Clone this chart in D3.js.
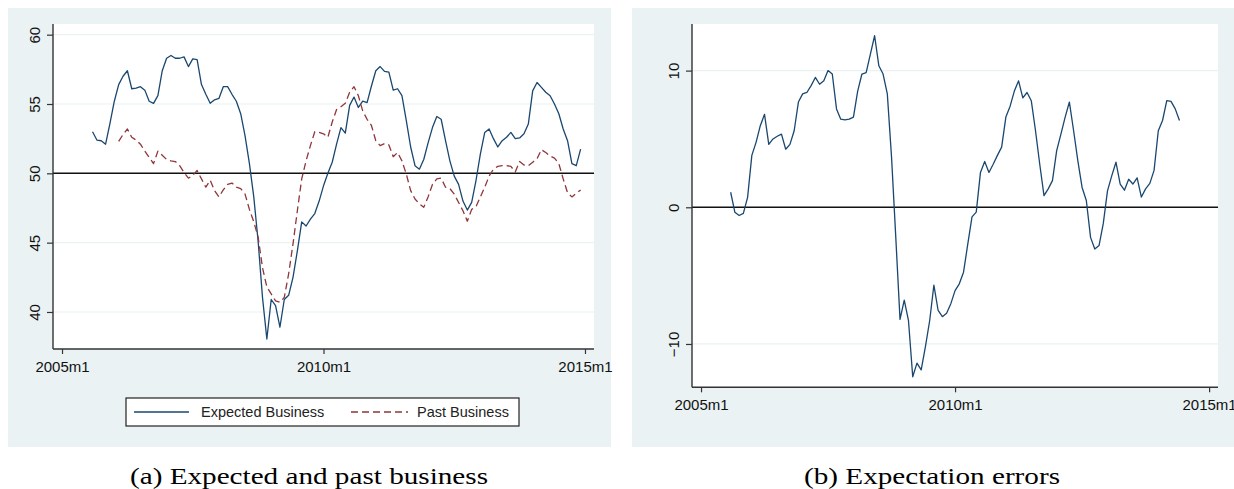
<!DOCTYPE html>
<html>
<head>
<meta charset="utf-8">
<script src="https://cdn.jsdelivr.net/npm/d3@7"></script>
<style>
  html, body { margin: 0; padding: 0; background: #ffffff; }
  svg { display: block; }
</style>
</head>
<body>
<svg id="chart" width="1234" height="489"></svg>
<script>
// ---------------- DATA ----------------
// months counted from 2005m1 (index 0)
const xTickMonths = [0, 60, 120];
const xTickLabels = ["2005m1", "2010m1", "2015m1"];

// Panel (a)
const expectedStart = 7;   // 2005m8
const expectedBusiness = [
  53.0, 52.4, 52.35, 52.1, 53.6, 55.2, 56.4, 57.0, 57.4, 56.1,
  56.15, 56.25, 56.0, 55.2, 55.05, 55.6, 57.4, 58.3, 58.5, 58.3,
  58.3, 58.4, 57.7, 58.25, 58.2, 56.4, 55.7, 55.05, 55.3, 55.4,
  56.25, 56.25, 55.7, 55.2, 54.3, 52.7, 50.7, 48.3, 45.1, 41.05,
  38.05, 40.9, 40.45, 38.9, 40.9, 41.2, 42.5, 44.4, 46.5, 46.2,
  46.7, 47.1, 48.0, 49.1, 50.0, 50.8, 52.1, 53.3, 52.9, 54.9,
  55.5, 54.75, 55.2, 55.1, 56.3, 57.4, 57.7, 57.35, 57.3, 56.0,
  56.1, 55.6, 53.8, 51.9, 50.55, 50.3, 51.0, 52.2, 53.3, 54.1,
  53.9, 52.35, 50.9, 49.8, 49.2, 48.0, 47.35, 47.9, 49.5, 51.4,
  52.95, 53.2, 52.5, 51.9, 52.35, 52.6, 52.95, 52.5, 52.55, 52.85,
  53.55, 55.95, 56.55, 56.2, 55.85, 55.6, 55.0, 54.3, 53.2, 52.35,
  50.7, 50.55, 51.75
];
const pastStart = 13;      // 2006m2
const pastBusiness = [
  52.3, 52.8, 53.2, 52.6, 52.4, 52.1, 51.6, 51.15, 50.7, 51.6,
  51.3, 51.0, 50.9, 50.85, 50.55, 50.05, 49.65, 49.85, 50.2, 49.6,
  49.0, 49.5, 48.75, 48.3, 48.8, 49.2, 49.3, 49.0, 48.9, 48.5,
  47.4, 46.5, 45.4, 43.2, 41.8, 41.3, 40.8, 40.7, 41.05, 42.75,
  44.9, 47.3, 49.6, 50.9, 52.0, 53.0, 52.95, 52.85, 52.6, 53.7,
  54.6, 54.8, 55.05, 55.85, 56.25, 55.6, 54.5, 53.9, 53.45, 52.35,
  52.0, 52.15, 52.05, 51.2, 51.5, 50.9, 49.95, 48.75, 48.15, 47.8,
  47.55, 48.3, 49.2, 49.6, 49.65, 49.0, 48.9, 48.5, 47.9, 47.3,
  46.55, 47.4, 47.6, 48.3, 49.0, 49.8, 50.3, 50.5, 50.55, 50.55,
  50.5, 50.1, 50.85, 50.6, 50.55, 50.8, 51.05, 51.7, 51.5, 51.25,
  51.1, 50.7, 49.6, 48.6, 48.3, 48.55, 48.8
];
const yTicksA = [40, 45, 50, 55, 60];
const refA = 50;

// Panel (b)
const errorStart = 7;      // 2005m8
const expectationErrors = [
  1.1, -0.37, -0.6, -0.45, 0.73, 3.8, 4.75, 5.97, 6.8, 4.6,
  5.0, 5.2, 5.35, 4.25, 4.6, 5.6, 7.7, 8.3, 8.4, 8.9,
  9.5, 9.0, 9.25, 10.0, 9.75, 7.2, 6.45, 6.4, 6.45, 6.6,
  8.5, 9.75, 9.85, 11.2, 12.55, 10.35, 9.75, 8.3, 3.65, -2.2,
  -8.2, -6.8, -8.3, -12.4, -11.4, -11.9, -10.2, -8.3, -5.7, -7.55,
  -8.0, -7.75, -7.05, -6.1, -5.6, -4.75, -2.7, -0.7, -0.35, 2.55,
  3.35, 2.55, 3.15, 3.8, 4.4, 6.6, 7.4, 8.5, 9.25, 8.0,
  8.4, 7.8, 5.6, 3.15, 0.85, 1.35, 1.95, 4.15, 5.35, 6.6,
  7.7, 5.6, 3.4, 1.45, 0.5, -2.2, -3.05, -2.8, -1.2, 1.2,
  2.3, 3.3, 1.7, 1.25, 2.05, 1.7, 2.15, 0.75, 1.35, 1.75,
  2.7, 5.6, 6.35, 7.8, 7.75, 7.2, 6.35
];
const yTicksB = [-10, 0, 10];
const refB = 0;

const legendLabels = ["Expected Business", "Past Business"];
const captions = ["(a) Expected and past business", "(b) Expectation errors"];

// ---------------- STYLE ----------------
const BG = "#eaf2f3";
const BLUE = "#1a476f";
const RED = "#90353b";
const AXIS = "#333333";
const FONT = "'Liberation Sans', Arial, sans-serif";

const svg = d3.select("#chart");

function toPoints(start, vals) {
  return vals.map((v, i) => ({ m: start + i, v }));
}

function drawPanel(cfg) {
  const g = svg.append("g");
  g.append("rect").attr("x", cfg.bg[0]).attr("y", cfg.bg[1])
    .attr("width", cfg.bg[2] - cfg.bg[0]).attr("height", cfg.bg[3] - cfg.bg[1])
    .attr("fill", BG);
  const x = d3.scaleLinear().domain(cfg.xDomain).range([cfg.plot[0], cfg.plot[2]]);
  const y = d3.scaleLinear().domain(cfg.yDomain).range([cfg.plot[3], cfg.plot[1]]);
  g.append("rect").attr("x", cfg.plot[0]).attr("y", cfg.plot[1])
    .attr("width", cfg.plot[2] - cfg.plot[0]).attr("height", cfg.plot[3] - cfg.plot[1])
    .attr("fill", "#ffffff");
  g.selectAll(".grid").data(cfg.yTicks).enter().append("line")
    .attr("x1", cfg.plot[0]).attr("x2", cfg.plot[2])
    .attr("y1", d => y(d)).attr("y2", d => y(d))
    .attr("stroke", BG).attr("stroke-width", 1.2);
  g.append("line").attr("x1", cfg.plot[0]).attr("x2", cfg.plot[2])
    .attr("y1", y(cfg.ref)).attr("y2", y(cfg.ref))
    .attr("stroke", "#111").attr("stroke-width", 1.5);
  cfg.series.forEach(s => {
    const line = d3.line().x(d => x(d.m)).y(d => y(d.v));
    g.append("path").datum(s.data).attr("d", line)
      .attr("fill", "none").attr("stroke", s.color).attr("stroke-width", 1.3)
      .attr("stroke-dasharray", s.dash || null)
      .attr("stroke-linejoin", "round");
  });
  const yAxis = d3.axisLeft(y).tickValues(cfg.yTicks).tickSize(6).tickPadding(4);
  const ya = g.append("g").attr("transform", `translate(${cfg.plot[0]},0)`).call(yAxis);
  ya.select(".domain").attr("stroke", AXIS).attr("stroke-width", 1.4)
    .attr("d", `M0,${cfg.plot[3]}V${cfg.plot[1]}`);
  ya.selectAll(".tick line").attr("stroke", AXIS).attr("stroke-width", 1.2);
  ya.selectAll(".tick text")
    .attr("font-family", FONT).attr("font-size", 15).attr("fill", "#111")
    .attr("text-anchor", "middle")
    .attr("x", 0).attr("y", 0).attr("dy", null)
    .attr("transform", "translate(-19,0) rotate(-90)")
    .attr("dominant-baseline", "central");
  const xAxis = d3.axisBottom(x).tickValues(xTickMonths)
    .tickFormat((d, i) => xTickLabels[i]).tickSize(5).tickPadding(7);
  const xa = g.append("g").attr("transform", `translate(0,${cfg.plot[3]})`).call(xAxis);
  xa.select(".domain").attr("stroke", AXIS).attr("stroke-width", 1.4)
    .attr("d", `M${cfg.plot[0]},0H${cfg.plot[2]}`);
  xa.selectAll(".tick line").attr("stroke", AXIS).attr("stroke-width", 1.2);
  xa.selectAll(".tick text").attr("font-family", FONT).attr("font-size", 15).attr("fill", "#111");
  return { g, x, y };
}

const pa = drawPanel({
  bg: [8, 8, 611, 447],
  plot: [53, 24, 594, 349],
  xDomain: [-2.07, 122.07],
  yDomain: [37.33, 60.77],
  yTicks: yTicksA,
  ref: refA,
  series: [
    { data: toPoints(expectedStart, expectedBusiness), color: BLUE },
    { data: toPoints(pastStart, pastBusiness), color: RED, dash: "7,4" }
  ]
});

const lg = pa.g.append("g");
lg.append("rect").attr("x", 126).attr("y", 398).attr("width", 393).attr("height", 28)
  .attr("fill", "#ffffff").attr("stroke", "#222").attr("stroke-width", 1.2);
const legendItems = [
  { label: legendLabels[0], color: BLUE, dash: null, x1: 134, x2: 189, tx: 201 },
  { label: legendLabels[1], color: RED, dash: "7,4", x1: 351, x2: 408, tx: 417 }
];
legendItems.forEach(it => {
  lg.append("line").attr("x1", it.x1).attr("x2", it.x2).attr("y1", 412).attr("y2", 412)
    .attr("stroke", it.color).attr("stroke-width", 1.3).attr("stroke-dasharray", it.dash);
  lg.append("text").attr("x", it.tx).attr("y", 412).attr("dominant-baseline", "central")
    .attr("font-family", FONT).attr("font-size", 14.5).attr("fill", "#222").text(it.label);
});

drawPanel({
  bg: [632, 8, 1234, 447],
  plot: [692, 24, 1218, 387.3],
  xDomain: [-2.13, 122.1],
  yDomain: [-13.17, 13.41],
  yTicks: yTicksB,
  ref: refB,
  series: [
    { data: toPoints(errorStart, expectationErrors), color: BLUE }
  ]
});

const capX = [309, 932];
const capW = [358, 256];
captions.forEach((c, i) => {
  svg.append("text").attr("x", capX[i]).attr("y", 484).attr("text-anchor", "middle")
    .attr("font-family", "'Liberation Serif', 'Times New Roman', serif").attr("font-size", 23)
    .attr("fill", "#000").attr("textLength", capW[i]).attr("lengthAdjust", "spacingAndGlyphs")
    .text(c);
});
</script>
</body>
</html>
